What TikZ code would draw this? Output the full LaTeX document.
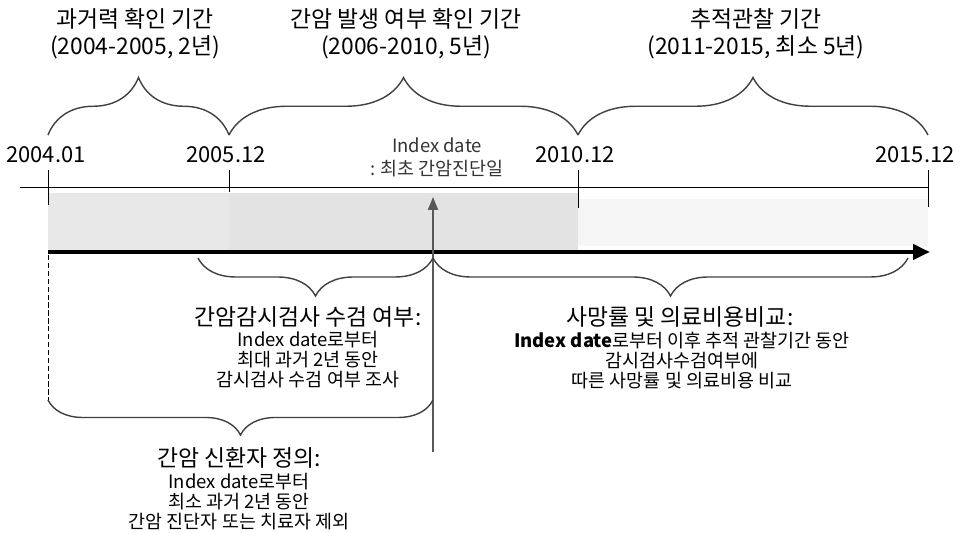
\documentclass[tikz,border=0pt]{standalone}
\usepackage{fontspec}
\setmainfont{Noto Sans CJK KR}
\usetikzlibrary{arrows.meta,decorations.pathreplacing,calc,positioning}

\begin{document}
\begin{tikzpicture}[x=0.02cm, y=-0.02cm,
      every node/.append style={inner sep=0pt, align=center},
      bracestyle/.style={decorate, thick, black!75, decoration={brace, amplitude=#1}}]
    \tikzstyle{title} = [font=\fontsize{13}{15.4}\selectfont]
    \tikzstyle{datelab} = [font=\fontsize{12.5}{14}\selectfont]
    \tikzstyle{note} = [font=\fontsize{10.5}{11.4}\selectfont]
    \useasboundingbox (0,0) rectangle (961,533);
    % time points on the axis
    \coordinate (t04) at (48,187);
    \coordinate (t05) at (229,187);
    \coordinate (t10) at (578,187);
    \coordinate (t15) at (928,187);
    \coordinate (idx) at (433,187);
    % shaded periods
    \fill[black!9] (48,193) rectangle (229,250);
    \fill[black!11] (229,193) rectangle (578,250);
    \fill[black!4] (578,199) rectangle (928,246);
    % thin axis and ticks
    \coordinate (axstart) at (20,187);
    \draw[thin] (axstart) -- (t15);
    \draw[thin] ($(t04)+(0,-17)$) -- ($(t04)+(0,18)$);
    \draw[thin] ($(t05)+(0,-17)$) -- ($(t05)+(0,5)$);
    \draw[thin] ($(t10)+(0,-17)$) -- ($(t10)+(0,21)$);
    \draw[thin] ($(t15)+(0,-17)$) -- ($(t15)+(0,20)$);
    % dates
    \node (d04) [datelab] at (46,155) {2004.01};
    \node (d05) [datelab] at (226,155) {2005.12};
    \node (d10) [datelab] at (575,155) {2010.12};
    \node (d15) [datelab] at (915,155) {2015.12};
    % upper braces with period names
    \draw[bracestyle=1.15cm] ($(t04)+(0,-52)$) -- ($(t05)+(0,-52)$);
    \draw[bracestyle=1.15cm] ($(t05)+(0,-52)$) -- ($(t10)+(0,-52)$);
    \draw[bracestyle=1.15cm] ($(t10)+(0,-52)$) -- ($(t15)+(0,-52)$);
    \node (hist) [title] at (135,34) {과거력 확인 기간\\(2004-2005, 2년)};
    \node (onset) [title] at (406,34) {간암 발생 여부 확인 기간\\(2006-2010, 5년)};
    \node (follow) [title] at (756,34) {추적관찰 기간\\(2011-2015, 최소 5년)};
    % index date
    \node (idxlab) [note, text=black!80, font=\fontsize{10.5}{13}\selectfont] at (437,157) {Index date\\: 최초 간암진단일};
    % main time arrow
    \coordinate (arrstart) at (48,252);
    \coordinate (arrend) at (930,252);
    \draw[line width=2.4pt, -{Triangle[length=3.4mm,width=3mm]}] (arrstart) -- (arrend);
    % index date marker
    \coordinate (idxbot) at (433,452);
    \draw[line width=1.1pt, black!65, -{Triangle[length=2.6mm,width=2mm]}] (idxbot) -- ($(idx)+(0,10)$);
    % dashed start line
    \coordinate (dashbot) at (48,400);
    \draw[thin, dashed, dash pattern=on 3pt off 1.5pt] ($(arrstart)+(0,3)$) -- (dashbot);
    % lower braces
    \draw[bracestyle=0.76cm] (433,258) -- (198,258);
    \draw[bracestyle=0.76cm] (908,258) -- (433,258);
    \draw[bracestyle=0.7cm] (433,400) -- (48,400);
    \node (screen) [title] at (308,317) {간암감시검사 수검 여부:};
    \node (screentxt) [note] at (308,360) {Index date로부터\\최대 과거 2년 동안\\감시검사 수검 여부 조사};
    \node (mort) [title] at (680,317) {사망률 및 의료비용비교:};
    \node (morttxt) [note] at (682,361) {\textbf{Index date}로부터 이후 추적 관찰기간 동안\\감시검사수검여부에\\따른 사망률 및 의료비용 비교};
    \node (newcase) [title] at (239,458) {간암 신환자 정의:};
    \node (newtxt) [note] at (239,502) {Index date로부터\\최소 과거 2년 동안\\간암 진단자 또는 치료자 제외};
\end{tikzpicture}
\end{document}
